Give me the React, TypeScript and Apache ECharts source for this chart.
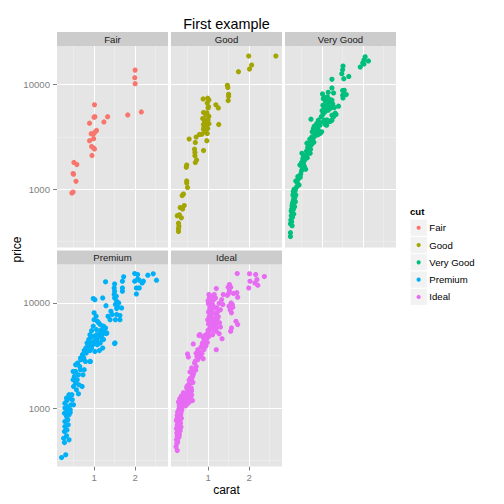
import React, { useEffect, useRef } from "react";
import * as echarts from "echarts";

const FONT = "'Liberation Sans', Arial, Helvetica, sans-serif";

const cuts = ["Fair", "Good", "Very Good", "Premium", "Ideal"];
const cutColors = ["#F8766D", "#A3A500", "#00BF7D", "#00B0F6", "#E76BF3"];
const xTicks = [1, 2];
const yTicks = [1000, 10000];
const xMinor = [0.5, 1.5, 2.5];
const yMinor = [316.23, 3162.3];
const xRange = [0.0975, 2.8];
const yRange = [278.6, 23174];

const fair = [
  [2.0, 13650], [1.99, 11560], [2.0, 10150], [2.15, 5450], [1.82, 5100], [1.01, 6380], [1.02, 4920],
  [1.0, 4850], [1.33, 4920], [1.24, 4380], [0.89, 4260], [1.06, 3630], [1.02, 3500], [0.93, 3380],
  [0.98, 3350], [0.89, 2900], [0.99, 3030], [0.94, 2550], [0.98, 2490], [1.01, 2420], [0.95, 2100],
  [0.51, 1800], [0.58, 1720], [0.49, 1410], [0.5, 1390], [0.56, 1190], [0.49, 940], [0.46, 920],
];

const good = [
  [2.65, 18580], [1.99, 18580], [2.06, 15270], [2.01, 13990], [1.74, 13190], [1.47, 9780], [1.48, 9300],
  [1.5, 8030], [1.5, 7690], [1.49, 7000], [1.19, 6370], [1.25, 5960], [0.88, 7260], [0.99, 7370],
  [1.02, 7100], [0.98, 6650], [1.0, 5960], [0.89, 5380], [0.97, 5350], [1.02, 4970], [0.87, 4720],
  [0.93, 4550], [0.97, 4390], [1.02, 4200], [0.89, 4140], [0.95, 4020], [0.99, 3790], [0.89, 3740],
  [0.93, 3530], [0.98, 3400], [1.26, 4140], [0.85, 3350], [0.79, 3330], [0.71, 3140], [0.97, 2900],
  [0.54, 3010], [0.69, 2790], [0.89, 2340], [0.67, 2410], [0.68, 2240], [0.68, 2090], [0.72, 1900],
  [0.69, 1800], [0.48, 1700], [0.47, 1620], [0.48, 1200], [0.48, 1150], [0.5, 1040], [0.4, 900],
  [0.37, 870], [0.42, 700], [0.32, 670], [0.38, 650], [0.25, 560], [0.3, 570], [0.35, 535],
  [0.28, 475], [0.29, 443], [0.28, 420], [0.28, 396], [0.91, 4300], [1.0, 4600], [0.95, 5100],
  [1.01, 6100], [0.9, 3900],
];

const veryGood = [
  [2.05, 18300], [2.02, 17000], [2.13, 16700], [1.99, 15960], [1.93, 14600], [2.02, 15600],
  [1.51, 14930], [1.5, 13780], [1.48, 12620], [1.53, 11320], [1.65, 11900], [1.24, 11150],
  [1.54, 8770], [1.5, 8710], [1.5, 7870], [1.59, 7990], [1.51, 7410], [1.24, 9230], [1.15, 8400],
  [1.28, 8280], [1.01, 8090], [1.05, 7540], [1.1, 7050], [1.15, 6700], [1.02, 6320], [1.12, 6320],
  [1.2, 6800], [1.24, 7050], [1.4, 6180], [1.32, 5310], [1.34, 5160], [1.24, 5080], [1.15, 5660],
  [1.07, 5460], [1.02, 5150], [0.98, 4900], [1.06, 4550], [1.15, 4390], [1.08, 4140], [0.95, 4080],
  [0.88, 3850], [0.89, 3475], [0.99, 3530], [1.11, 4080], [1.2, 4450], [1.24, 4550], [1.28, 4900],
  [0.91, 4550], [0.87, 4240], [0.81, 3990], [0.79, 3790], [0.73, 4650], [0.76, 3530], [0.83, 3280],
  [0.88, 3950], [0.94, 4250], [1.03, 4400], [1.12, 4570], [1.2, 4470], [0.96, 3410], [0.91, 3670],
  [1.03, 7300], [1.08, 6900], [1.13, 7600], [1.18, 7200], [1.05, 6000], [1.1, 5800], [1.0, 5600],
  [1.17, 6100], [1.21, 5900], [1.26, 6500], [1.3, 6000],
  [0.82, 3200], [0.85, 3400], [0.88, 3600], [0.9, 3300], [0.78, 3050], [0.75, 3150], [0.72, 2900],
  [0.7, 3000], [0.8, 2800], [0.62, 2300], [0.65, 2500], [0.68, 2700], [0.7, 2600], [0.72, 2400],
  [0.66, 2200], [0.64, 2000], [0.6, 2100], [0.58, 1900], [0.74, 2650], [0.76, 2750], [0.71, 2200],
  [0.63, 2750], [0.5, 1500], [0.52, 1600], [0.55, 1750], [0.5, 1800], [0.53, 1950], [0.57, 1650],
  [0.48, 1400], [0.46, 1700], [0.55, 2050], [0.6, 1550], [0.51, 2200], [0.38, 1050], [0.4, 1150],
  [0.42, 1250], [0.44, 1100], [0.36, 1200], [0.47, 1300], [0.35, 1000], [0.41, 1320],
  [0.3, 950], [0.32, 900], [0.34, 960], [0.31, 850], [0.33, 820], [0.3, 780], [0.28, 740],
  [0.31, 720], [0.29, 690], [0.26, 650], [0.3, 640], [0.33, 680], [0.27, 600], [0.31, 580],
  [0.25, 560], [0.28, 540], [0.24, 510], [0.26, 490], [0.23, 470], [0.27, 450], [0.35, 760],
  [0.36, 880], [0.32, 1000], [0.29, 880], [0.25, 620], [0.31, 800], [0.34, 850], [0.27, 700],
  [0.23, 386], [0.23, 354],
];

const premium = [
  [0.21, 339], [0.31, 360], [0.28, 470], [0.39, 500], [0.26, 516], [0.33, 545], [0.28, 600],
  [0.34, 620], [0.29, 668], [0.37, 693], [0.29, 746], [0.36, 775], [0.33, 832], [0.39, 863],
  [0.28, 895], [0.34, 929], [0.42, 908], [0.29, 1000], [0.37, 1035], [0.44, 1074], [0.29, 1114],
  [0.34, 1183], [0.41, 1245], [0.47, 1200], [0.33, 1245], [0.39, 1340], [0.46, 1340], [0.5, 1074],
  [0.42, 964], [0.62, 1368],
  [0.5, 1607], [0.55, 1730], [0.49, 1862], [0.59, 1862], [0.52, 2000], [0.62, 2075], [0.55, 2234],
  [0.67, 2317], [0.71, 1607], [0.63, 1667], [0.57, 1493], [0.49, 2234], [0.55, 2582], [0.6, 2679],
  [0.65, 2489], [0.68, 2884], [0.75, 2992], [0.72, 3221], [0.79, 2780], [0.81, 3334], [0.87, 3589],
  [0.91, 3864], [0.85, 4009], [0.95, 4159], [1.01, 4315], [1.07, 4477], [0.99, 4808], [0.91, 4645],
  [1.06, 4989], [1.15, 5176], [1.24, 5370], [1.3, 5105], [1.11, 4159], [1.2, 4477], [0.91, 2780],
  [1.5, 4102], [0.76, 2317], [0.73, 2075],
  [1.99, 19010], [2.06, 18580], [2.06, 16900], [2.1, 16440], [1.99, 16070], [2.03, 13870],
  [2.1, 13870], [2.03, 12160], [2.17, 15490], [2.31, 18320], [2.44, 18880], [2.52, 16440],
  [2.2, 16070], [1.72, 17700], [1.69, 16070], [1.69, 13870], [1.69, 12910], [1.5, 15140],
  [1.49, 13870], [1.5, 12910], [1.49, 12000], [1.54, 11560], [1.5, 11140], [1.55, 10350],
  [1.52, 9640], [1.58, 9080], [1.6, 10000], [1.67, 8950], [1.63, 7570], [1.55, 7740], [1.52, 6930],
  [1.63, 6930], [1.28, 15850], [1.21, 11140], [1.29, 9420], [1.41, 8320], [1.44, 7740], [1.39, 6930],
  [1.34, 7460], [1.55, 8830], [1.51, 4160],
  [0.98, 10990], [1.02, 10740], [1.0, 8040], [1.0, 6930], [1.05, 7460], [1.08, 6680], [1.11, 6460],
  [1.15, 6220], [1.18, 5570], [1.23, 6000], [1.28, 5780], [1.31, 5180], [1.2, 4990], [1.13, 4810],
  [1.06, 5570], [0.98, 6000], [0.94, 5440], [0.9, 4990], [0.87, 4480], [0.92, 4160], [0.97, 4010],
  [1.02, 4320], [1.08, 4010], [1.15, 4160], [1.23, 4480], [1.21, 3720], [1.13, 3520], [1.02, 3460],
  [0.94, 3720], [0.9, 3520], [0.83, 4160], [0.8, 3720], [0.76, 3520], [0.72, 3220], [0.67, 2990],
  [0.9, 2780],
];

const ideal = [
  [0.25, 395], [0.22, 430], [0.24, 460], [0.26, 480], [0.23, 500], [0.27, 520], [0.25, 540],
  [0.28, 560], [0.24, 580], [0.26, 600], [0.29, 620], [0.23, 640], [0.27, 650], [0.3, 670],
  [0.25, 690], [0.28, 700], [0.31, 720], [0.26, 740], [0.29, 760], [0.32, 780], [0.24, 790],
  [0.27, 810], [0.3, 830], [0.33, 850], [0.28, 870], [0.31, 890], [0.34, 900], [0.26, 920],
  [0.3, 940], [0.33, 950], [0.36, 960], [0.29, 980], [0.32, 1000], [0.35, 1020], [0.38, 1040],
  [0.31, 1060], [0.34, 1080], [0.4, 1100], [0.37, 1120], [0.3, 560], [0.32, 610], [0.28, 690],
  [0.33, 720], [0.35, 800], [0.31, 980], [0.25, 850], [0.27, 900], [0.23, 760], [0.29, 530],
  [0.34, 660],
  [0.3, 1060], [0.35, 1110], [0.4, 1160], [0.45, 1200], [0.5, 1250], [0.55, 1290], [0.6, 1330],
  [0.28, 1140], [0.33, 1190], [0.38, 1260], [0.43, 1320], [0.48, 1380], [0.53, 1420], [0.58, 1240],
  [0.62, 1180], [0.5, 1100], [0.45, 1050], [0.4, 1400], [0.35, 1300], [0.31, 1230], [0.55, 1150],
  [0.6, 1460],
  [0.5, 1500], [0.52, 1600], [0.55, 1700], [0.58, 1800], [0.6, 1900], [0.62, 2000], [0.64, 2100],
  [0.56, 2200], [0.51, 1650], [0.54, 1850], [0.66, 2250], [0.7, 2300], [0.48, 1550], [0.59, 1550],
  [0.63, 1750],
  [0.5, 3270], [0.52, 3060], [0.64, 4070], [0.78, 4890], [0.71, 3330], [0.75, 3590], [0.83, 3800],
  [0.87, 4170], [0.91, 4470], [0.81, 3090], [0.88, 2950], [0.67, 2680], [0.6, 2400], [0.71, 2490],
  [0.75, 2880], [0.63, 2150], [0.57, 1930], [0.55, 1730], [0.49, 1610], [0.8, 3400], [0.85, 3300],
  [0.73, 3100], [0.69, 2800], [0.9, 3600], [0.95, 3900], [0.77, 3200],
  [0.8, 5000], [0.88, 4700], [0.93, 4350], [0.86, 4100], [0.9, 3950], [0.97, 4600], [0.98, 4200],
  [1.71, 19010], [2.01, 18880], [2.16, 18580], [2.37, 17780], [2.19, 16670], [2.14, 15490],
  [2.21, 14720], [1.99, 13870], [2.02, 16070], [1.52, 14930], [1.49, 14090], [1.55, 14090],
  [1.72, 11320], [1.68, 6680], [1.72, 6220], [1.57, 5780], [1.55, 5370], [1.59, 9640], [1.6, 9080],
  [1.54, 8570], [1.57, 8040], [1.37, 12000], [1.33, 10740], [1.36, 9640], [1.2, 13680], [1.15, 12000],
  [1.18, 11140], [1.03, 11140], [1.02, 10350], [1.05, 9290], [1.11, 9640], [1.16, 8950], [1.21, 7740],
  [1.24, 8320], [1.28, 6460], [1.34, 4570], [1.2, 3590], [1.2, 5780], [1.11, 6930], [1.07, 6220],
  [1.03, 5370], [1.02, 4810], [1.11, 4990], [1.2, 5370], [1.13, 6000], [0.99, 6930], [1.03, 7460],
  [1.08, 7950], [1.07, 7640],
  [1.0, 10500], [1.01, 9800], [1.04, 8800], [1.06, 8400], [1.09, 8900], [1.12, 9300], [1.14, 8000],
  [1.16, 7100], [1.18, 6600], [1.22, 7000], [1.25, 7400], [1.27, 9900], [1.3, 8600], [1.01, 8200],
  [1.04, 7000], [1.09, 6400], [1.12, 5900], [1.15, 5500], [1.19, 6200], [1.05, 5800], [1.0, 5500],
  [0.98, 5100], [0.95, 4700], [0.92, 4900], [1.01, 6300], [1.1, 10500], [1.21, 9000], [1.02, 12000],
  [1.07, 11600], [1.14, 10800], [1.52, 13000], [1.5, 12300], [1.47, 11800], [1.56, 10000],
  [1.51, 9300], [1.62, 12300], [1.7, 12500], [1.23, 6500], [1.27, 5100], [1.3, 5900],
];

const seriesData = [fair, good, veryGood, premium, ideal];

// layout (pixels)
const PANEL_LEFT = [57, 171, 285, 57, 171];
const PANEL_TOP = [46, 46, 46, 264.5, 264.5];
const PANEL_H = [201.5, 201.5, 201.5, 202, 202];
const PANEL_W = 111;
const STRIP_H = 14;

export default function App() {
  const ref = useRef<HTMLDivElement>(null);

  useEffect(() => {
    if (!ref.current) return;
    const chart = echarts.init(ref.current, null, { renderer: "svg" });

    const majorLine = { color: "#FFFFFF", width: 1.07, type: "solid" };
    const minorLine = { color: "#F2F2F2", width: 0.55, type: "solid" };

    const grid = cuts.map((_, i) => ({
      left: PANEL_LEFT[i],
      top: PANEL_TOP[i],
      width: PANEL_W,
      height: PANEL_H[i],
      show: true,
      backgroundColor: "#E5E5E5",
      borderWidth: 0,
    }));

    const xAxis = cuts.map((_, i) => {
      const bottom = i >= 3;
      return {
        type: "value",
        gridIndex: i,
        min: xRange[0],
        max: xRange[1],
        axisLine: { show: false },
        splitLine: { show: false },
        minorTick: { show: false },
        axisTick: {
          show: bottom,
          length: 4,
          customValues: xTicks,
          lineStyle: { color: "#7F7F7F", width: 1 },
        },
        axisLabel: {
          show: bottom,
          customValues: xTicks,
          color: "#7F7F7F",
          fontSize: 9.6,
          fontFamily: FONT,
          margin: 6,
          formatter: (v: number) => String(v),
        },
      };
    });

    const yAxis = cuts.map((_, i) => {
      const left = i === 0 || i === 3;
      return {
        type: "log",
        logBase: 10,
        gridIndex: i,
        min: yRange[0],
        max: yRange[1],
        axisLine: { show: false },
        splitLine: { show: false },
        minorTick: { show: false },
        axisTick: {
          show: left,
          length: 4,
          customValues: yTicks,
          lineStyle: { color: "#7F7F7F", width: 1 },
        },
        axisLabel: {
          show: left,
          customValues: yTicks,
          color: "#7F7F7F",
          fontSize: 9.6,
          fontFamily: FONT,
          margin: 7,
          formatter: (v: number) => String(Math.round(v)),
        },
      };
    });

    const gridLines = [
      ...xMinor.map((v) => ({ xAxis: v, lineStyle: minorLine })),
      ...yMinor.map((v) => ({ yAxis: v, lineStyle: minorLine })),
      ...xTicks.map((v) => ({ xAxis: v, lineStyle: majorLine })),
      ...yTicks.map((v) => ({ yAxis: v, lineStyle: majorLine })),
    ];

    const series = cuts.map((name, i) => ({
      type: "scatter",
      name,
      xAxisIndex: i,
      yAxisIndex: i,
      data: seriesData[i],
      symbol: "circle",
      symbolSize: 5.2,
      itemStyle: { color: cutColors[i], opacity: 1 },
      z: 3,
      markLine: {
        silent: true,
        symbol: "none",
        z: 1,
        animation: false,
        label: { show: false },
        emphasis: { disabled: true },
        data: gridLines,
      },
    }));

    const graphic: any[] = [];
    cuts.forEach((name, i) => {
      graphic.push({
        type: "rect",
        shape: { x: PANEL_LEFT[i], y: PANEL_TOP[i] - STRIP_H, width: PANEL_W, height: STRIP_H },
        style: { fill: "#CCCCCC" },
        silent: true,
      });
      graphic.push({
        type: "text",
        x: PANEL_LEFT[i] + PANEL_W / 2,
        y: PANEL_TOP[i] - STRIP_H / 2,
        style: {
          text: name,
          fill: "#1A1A1A",
          fontSize: 9.6,
          fontFamily: FONT,
          textAlign: "center",
          textVerticalAlign: "middle",
          align: "center",
          verticalAlign: "middle",
        },
        silent: true,
      });
    });

    const textStyle = (text: string, size: number, weight = "normal") => ({
      text,
      fill: "#000000",
      fontSize: size,
      fontWeight: weight,
      fontFamily: FONT,
      textAlign: "center",
      textVerticalAlign: "middle",
      align: "center",
      verticalAlign: "middle",
    });

    graphic.push({ type: "text", x: 226.5, y: 23.5, style: textStyle("First example", 14.4), silent: true });
    graphic.push({ type: "text", x: 226.5, y: 489.5, style: textStyle("carat", 12), silent: true });
    graphic.push({
      type: "text",
      x: 16.5,
      y: 249.5,
      rotation: Math.PI / 2,
      style: textStyle("price", 12),
      silent: true,
    });

    // legend
    const LEG_X = 410;
    const LEG_Y = 219.1;
    const KEY = 17.3;
    graphic.push({
      type: "text",
      x: LEG_X,
      y: 211.5,
      style: {
        text: "cut",
        fill: "#000000",
        fontSize: 9.6,
        fontWeight: "bold",
        fontFamily: FONT,
        textAlign: "left",
        textVerticalAlign: "middle",
        align: "left",
        verticalAlign: "middle",
      },
      silent: true,
    });
    cuts.forEach((name, i) => {
      const y0 = LEG_Y + KEY * i;
      graphic.push({
        type: "rect",
        shape: { x: LEG_X, y: y0, width: KEY, height: KEY },
        style: { fill: "#F2F2F2", stroke: "#FFFFFF", lineWidth: 1 },
        silent: true,
      });
      graphic.push({
        type: "circle",
        shape: { cx: LEG_X + KEY / 2, cy: y0 + KEY / 2, r: 2.1 },
        style: { fill: cutColors[i] },
        silent: true,
      });
      graphic.push({
        type: "text",
        x: LEG_X + KEY + 2,
        y: y0 + KEY / 2,
        style: {
          text: name,
          fill: "#000000",
          fontSize: 9.6,
          fontFamily: FONT,
          textAlign: "left",
          textVerticalAlign: "middle",
          align: "left",
          verticalAlign: "middle",
        },
        silent: true,
      });
    });

    chart.setOption({
      animation: false,
      backgroundColor: "#FFFFFF",
      grid,
      xAxis,
      yAxis,
      series,
      graphic,
    });

    return () => chart.dispose();
  }, []);

  return (
    <div
      ref={ref}
      style={{ position: "absolute", left: 0, top: 0, width: 504, height: 504 }}
    />
  );
}
